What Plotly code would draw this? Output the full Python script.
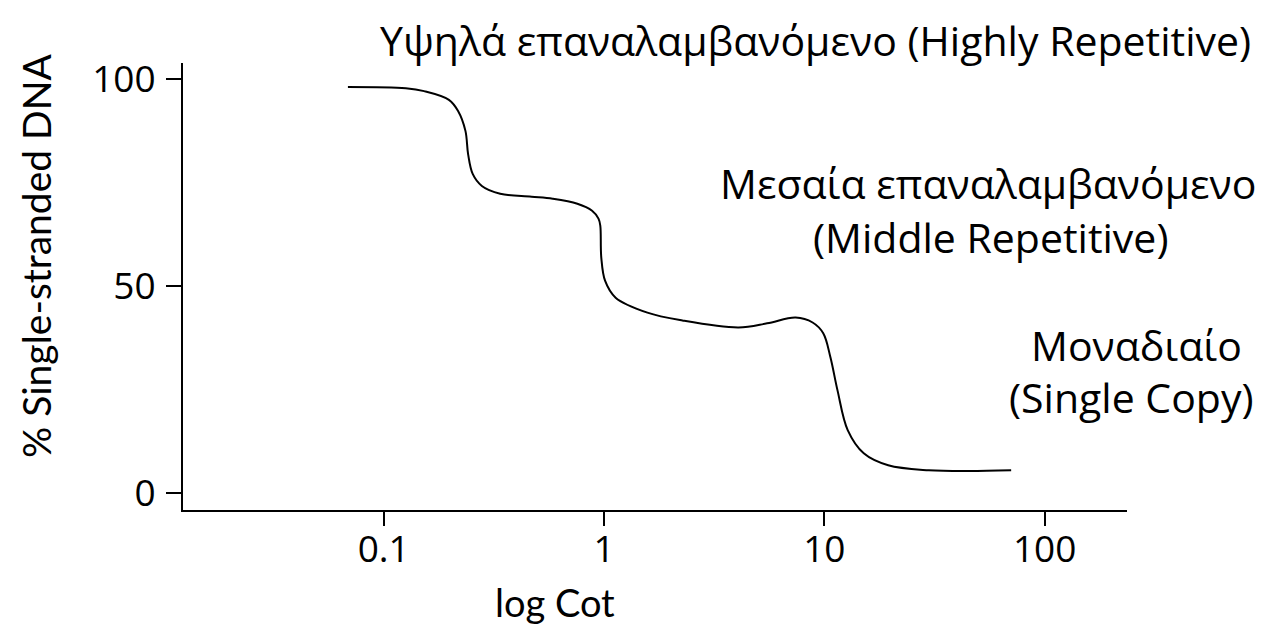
import plotly.graph_objects as go

# Cot values (x) and % single-stranded DNA (y)
cot = [0.0688, 0.126, 0.1526, 0.1977, 0.2176, 0.235, 0.2416, 0.2535, 0.279, 0.338,
       0.469, 0.585, 0.757, 0.883, 0.944, 0.962, 0.972, 1.011, 1.129, 1.574,
       2.27, 4.08, 5.50, 7.41, 8.85, 9.89, 10.66, 11.48, 12.77, 15.1,
       19.5, 29.8, 45.6, 70.5]
single_stranded = [98.1, 97.8, 97.1, 95.0, 92.3, 87.5, 81.9, 77.1, 74.2, 72.3,
                   71.6, 71.1, 69.9, 68.2, 66.3, 64.6, 56.9, 51.3, 47.2, 43.6,
                   41.7, 40.0, 41.0, 42.4, 41.2, 38.6, 32.8, 24.8, 15.2, 9.6,
                   6.7, 5.5, 5.3, 5.5]

x_ticks = [0.1, 1, 10, 100]
x_tick_labels = ["0.1", "1", "10", "100"]
y_ticks = [0, 50, 100]
y_tick_labels = ["0", "50", "100"]

LABEL_FONT = "Open Sans"
HAND_FONT = "Lato"

fig = go.Figure()
fig.add_trace(go.Scatter(
    x=cot, y=single_stranded, mode="lines",
    line=dict(color="black", width=2, shape="spline", smoothing=1.0),
    showlegend=False, hoverinfo="skip",
))

OFF = 8  # page body margin
W, H = 1276 - OFF, 629 - OFF
L, R, T, B = 183 - OFF, 1127 - OFF, 63 - OFF, 510 - OFF

def px(x):
    return (x - OFF - L) / (R - L)

def py(y):
    return (B - (y - OFF)) / (B - T)

texts = [
    ("Υψηλά επαναλαμβανόμενο (Highly Repetitive)", 815, 40),
    ("Μεσαία επαναλαμβανόμενο", 988, 183),
    ("(Middle Repetitive)", 990, 237),
    ("Μοναδιαίο", 1136, 345),
    ("(Single Copy)", 1131, 397),
]
annotations = []
for t, x, y in texts:
    annotations.append(dict(text=t, x=px(x), y=py(y), xref="paper", yref="paper",
                            xanchor="center", yanchor="middle", showarrow=False,
                            font=dict(family=LABEL_FONT, size=41, color="black")))
annotations.append(dict(text="log Cot", x=px(555), y=py(602), xref="paper", yref="paper",
                        xanchor="center", yanchor="middle", showarrow=False,
                        font=dict(family=HAND_FONT, size=38, color="black")))
annotations.append(dict(text="% Single-stranded DNA", x=px(36), y=py(256), xref="paper",
                        yref="paper", xanchor="center", yanchor="middle", showarrow=False,
                        textangle=-90,
                        font=dict(family=HAND_FONT, size=39, color="black")))

fig.update_layout(
    width=W, height=H,
    margin=dict(l=L, r=W - R, t=T, b=H - B, pad=0),
    paper_bgcolor="white", plot_bgcolor="white",
    annotations=annotations,
    xaxis=dict(type="log", range=[-1.911, 2.374], tickvals=x_ticks, ticktext=x_tick_labels,
               showgrid=False, zeroline=False, showline=True, linecolor="black", linewidth=2,
               ticks="outside", ticklen=14, tickwidth=1.5, tickcolor="black",
               ticklabelstandoff=-8,
               tickfont=dict(family=LABEL_FONT, size=37, color="black")),
    yaxis=dict(range=[-4.1, 103.9], tickvals=y_ticks, ticktext=y_tick_labels,
               showgrid=False, zeroline=False, showline=True, linecolor="black", linewidth=2,
               ticks="outside", ticklen=15, tickwidth=1.5, tickcolor="black",
               ticklabelstandoff=3,
               tickfont=dict(family=LABEL_FONT, size=37, color="black")),
)

fig.write_html("out.html")
